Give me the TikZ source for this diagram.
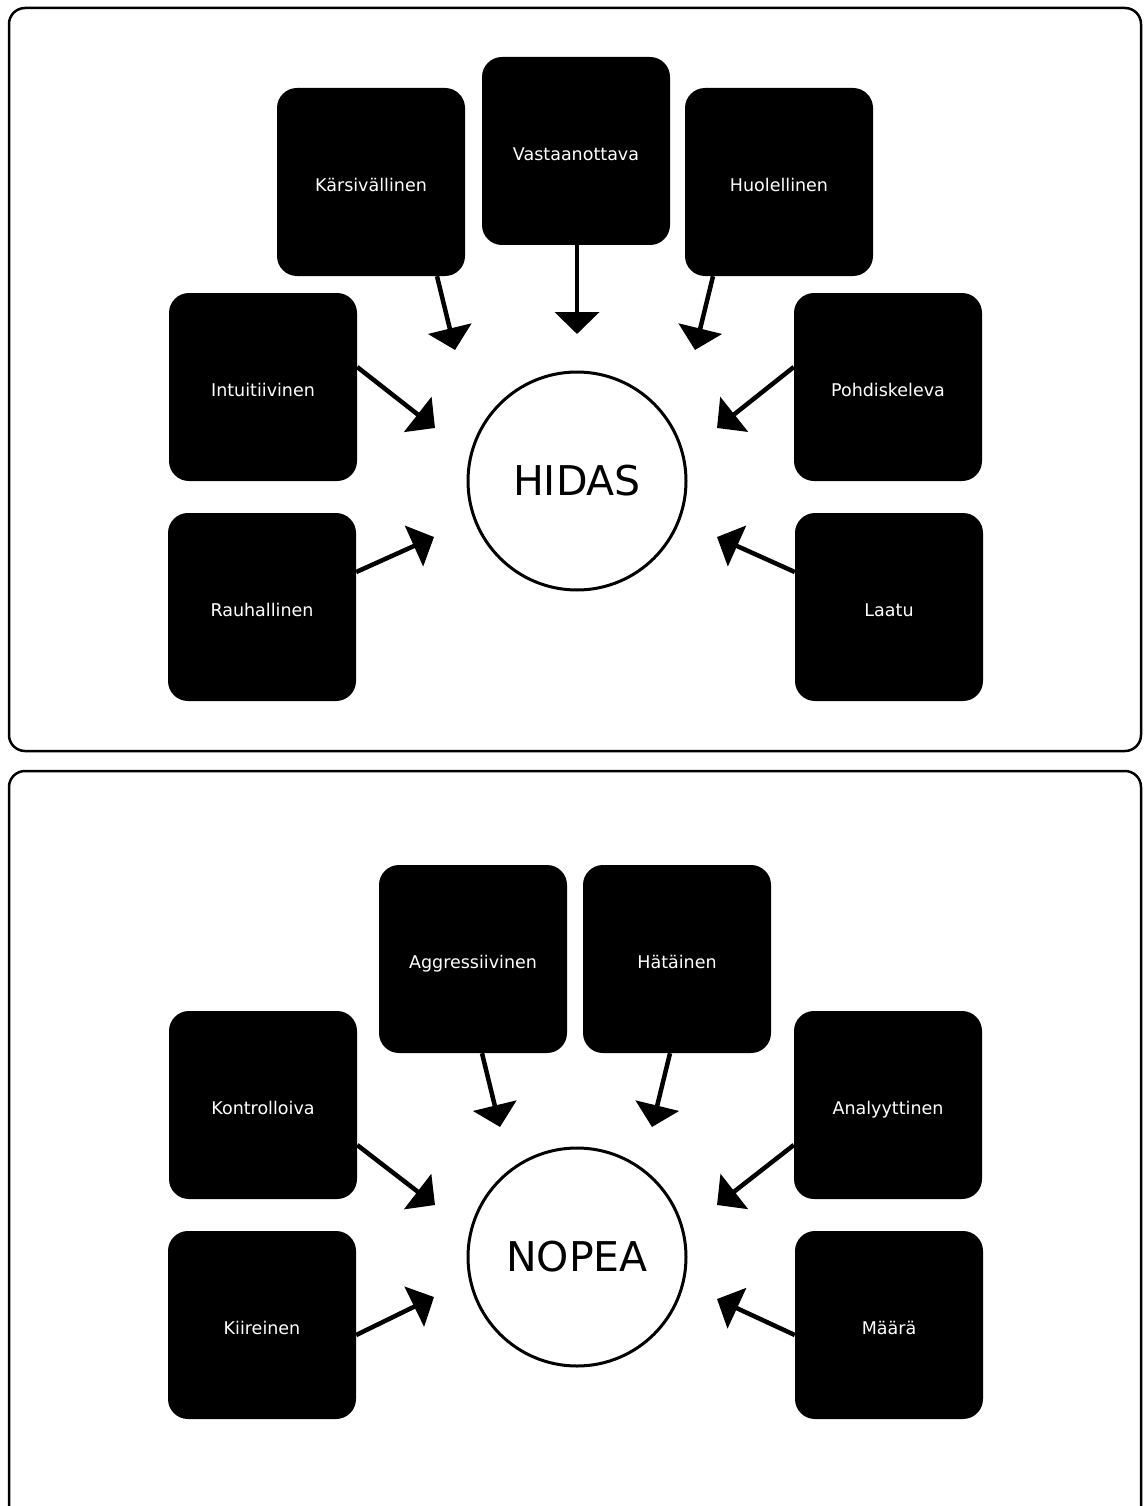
\documentclass[tikz,border=0pt]{standalone}
\usepackage{fontspec}
\setmainfont{DejaVu Sans}
\usetikzlibrary{arrows.meta}

\tikzset{
	kasten/.style = {fill = black, text = white, rounded corners = 20pt,
		minimum width = 188pt, minimum height = 188pt,
		text height = 19pt, text depth = 0pt,
		font = \fontsize{17.5}{20}\selectfont},
	kreis/.style = {draw, circle, line width = 3pt, minimum size = 218pt,
		font = \fontsize{41}{46}\selectfont},
	rahmen/.style = {draw, line width = 2.5pt, rounded corners = 16pt},
	pfeil/.style = {line width = 4.5pt, -{Triangle[width = 44pt, length = 22pt]}}
}

\begin{document}
\begin{tikzpicture}[x = 1pt, y = -1pt]
		\useasboundingbox (0, 0) rectangle (1143, 1506);
		\clip (0, 0) rectangle (1143, 1506);
		% Rahmen
		\draw [rahmen] (9, 8) rectangle (1141, 751);
		\draw [rahmen] (9, 771) rectangle (1141, 1540);
		% Oberer Teil
		\begin{scope}
			\node [kreis] (hidas) at (577, 481) {HIDAS};
			\node [kasten] (kars) at (371, 182) {Kärsivällinen};
			\node [kasten] (vast) at (576, 151) {Vastaanottava};
			\node [kasten] (huol) at (779, 182) {Huolellinen};
			\node [kasten] (intu) at (263, 387) {Intuitiivinen};
			\node [kasten] (pohd) at (888, 387) {Pohdiskeleva};
			\node [kasten] (rauh) at (262, 607) {Rauhallinen};
			\node [kasten] (laat) at (889, 607) {Laatu};
			\coordinate (h1) at (455, 350);
			\coordinate (h2) at (577, 334);
			\coordinate (h3) at (695, 350);
			\coordinate (h4) at (435, 428);
			\coordinate (h5) at (717, 428);
			\coordinate (h6) at (434, 537);
			\coordinate (h7) at (717, 537);
			\draw [pfeil] ([xshift = 66pt] kars.south) -- (h1);
			\draw [pfeil] ([xshift = 1pt] vast.south) -- (h2);
			\draw [pfeil] ([xshift = -66pt] huol.south) -- (h3);
			\draw [pfeil] ([yshift = 20pt] intu.east) -- (h4);
			\draw [pfeil] ([yshift = 20pt] pohd.west) -- (h5);
			\draw [pfeil] ([yshift = 35pt] rauh.east) -- (h6);
			\draw [pfeil] ([yshift = 35pt] laat.west) -- (h7);
		\end{scope}
		% Unterer Teil
		\begin{scope}
			\node [kreis] (nopea) at (577, 1257) {NOPEA};
			\node [kasten] (aggr) at (473, 959) {Aggressiivinen};
			\node [kasten] (hata) at (677, 959) {Hätäinen};
			\node [kasten] (kont) at (263, 1105) {Kontrolloiva};
			\node [kasten] (anal) at (888, 1105) {Analyyttinen};
			\node [kasten] (kiir) at (262, 1325) {Kiireinen};
			\node [kasten] (maar) at (889, 1325) {Määrä};
			\coordinate (n1) at (500, 1127);
			\coordinate (n2) at (652, 1127);
			\coordinate (n3) at (435, 1205);
			\coordinate (n4) at (717, 1205);
			\coordinate (n5) at (434, 1297);
			\coordinate (n6) at (717, 1299);
			\draw [pfeil] ([xshift = 9pt] aggr.south) -- (n1);
			\draw [pfeil] ([xshift = -7pt] hata.south) -- (n2);
			\draw [pfeil] ([yshift = -40pt] kont.east) -- (n3);
			\draw [pfeil] ([yshift = -40pt] anal.west) -- (n4);
			\draw [pfeil] ([yshift = -10pt] kiir.east) -- (n5);
			\draw [pfeil] ([yshift = -10pt] maar.west) -- (n6);
		\end{scope}
	\end{tikzpicture}
\end{document}
